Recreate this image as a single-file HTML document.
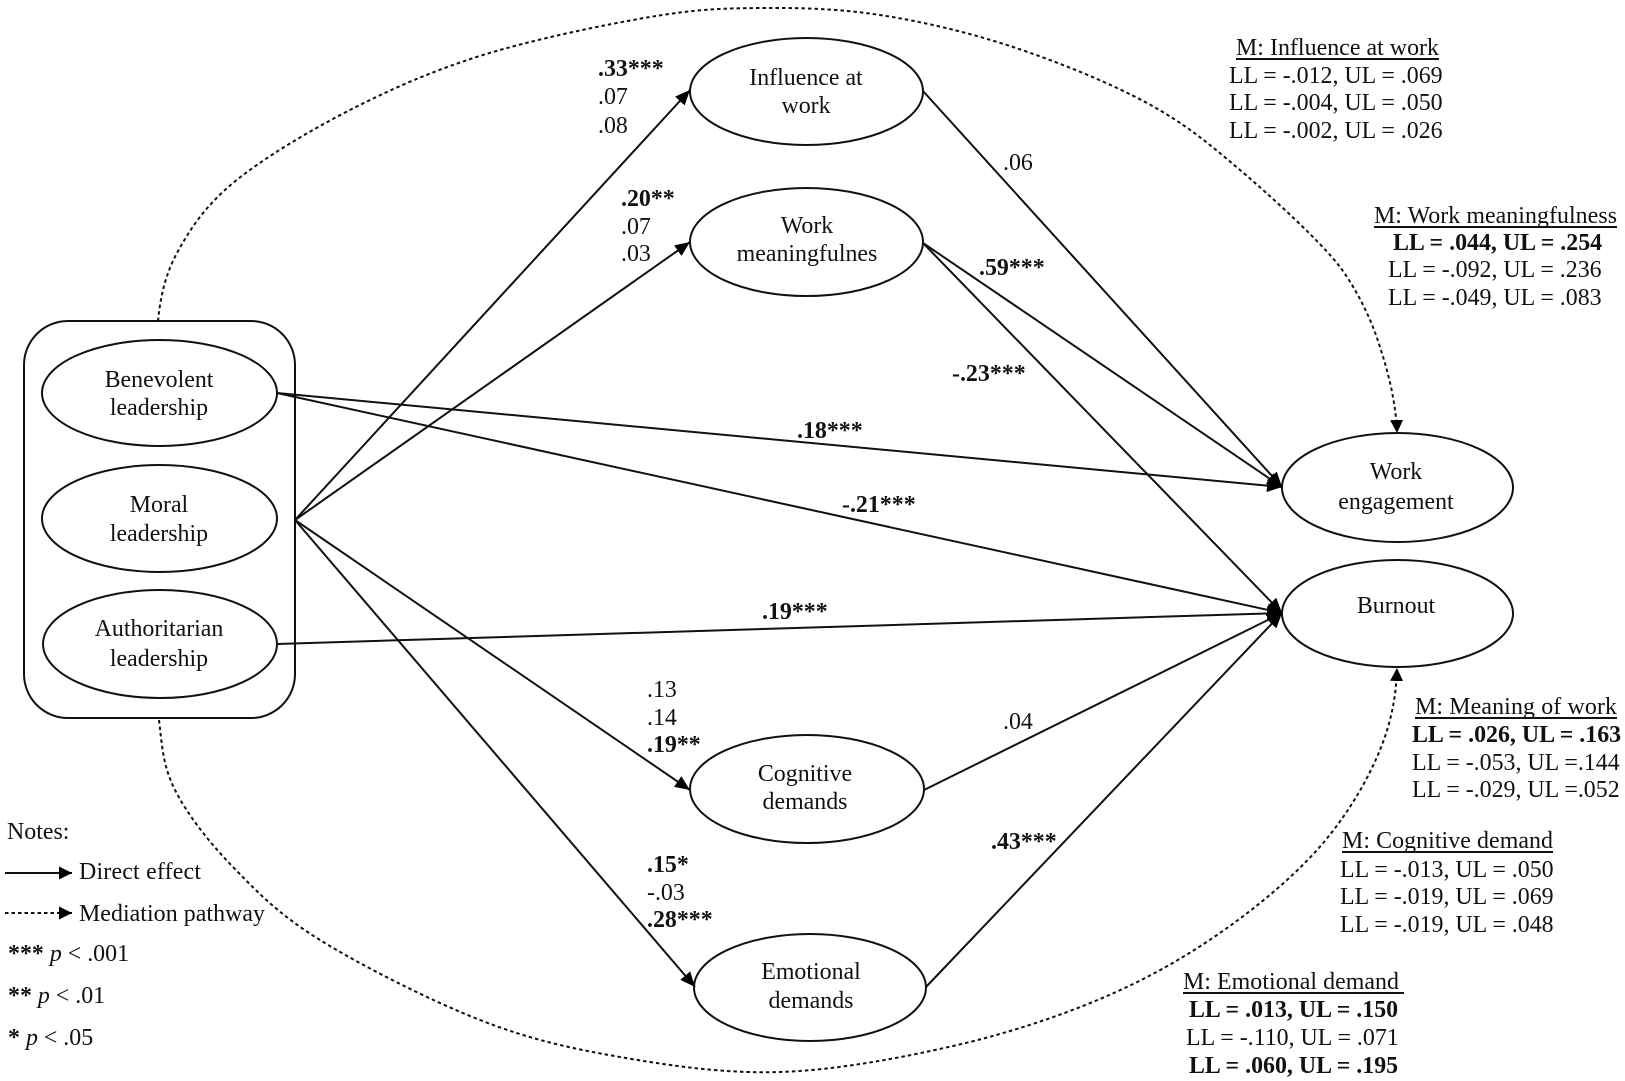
<!DOCTYPE html>
<html><head><meta charset="utf-8"><style>
html,body{margin:0;padding:0;background:#fff}
svg{display:block}
text{font-family:"Liberation Serif",serif;font-size:23.9px;fill:#111}
.b{font-weight:bold}
.c{text-anchor:middle}
.s{stroke:#111;stroke-width:2;fill:none}
.d{stroke:#111;stroke-width:2;fill:none;stroke-dasharray:3.5 3;stroke-linejoin:round}
</style></head><body>
<svg width="1625" height="1081" viewBox="0 0 1625 1081" xmlns="http://www.w3.org/2000/svg">
<defs>
<marker id="a" markerUnits="userSpaceOnUse" markerWidth="16" markerHeight="13" refX="15" refY="6.500" orient="auto"><path d="M0 0L15 6.500L0 13z" fill="#000"/></marker>
<marker id="e" markerUnits="userSpaceOnUse" markerWidth="14" markerHeight="13" refX="13" refY="6.500" orient="auto"><path d="M0 0L13 6.500L0 13z" fill="#000"/></marker>
</defs>
<rect x="24" y="321" width="271" height="397" rx="44" ry="44" class="s"/>
<ellipse cx="159.500" cy="393" rx="117.500" ry="53" class="s"/>
<ellipse cx="159.500" cy="518.500" rx="117.500" ry="53.500" class="s"/>
<ellipse cx="160" cy="644" rx="117" ry="54" class="s"/>
<ellipse cx="806.500" cy="91.500" rx="116.500" ry="53.500" class="s"/>
<ellipse cx="806.500" cy="242" rx="116.500" ry="54" class="s"/>
<ellipse cx="807" cy="789" rx="117" ry="54" class="s"/>
<ellipse cx="810" cy="987.500" rx="116" ry="53.500" class="s"/>
<ellipse cx="1397.500" cy="487.500" rx="115.500" ry="54.500" class="s"/>
<ellipse cx="1397.500" cy="613.500" rx="115.500" ry="53.500" class="s"/>
<g class="s">
<line x1="295" y1="520" x2="690" y2="90" marker-end="url(#a)"/>
<line x1="295" y1="520" x2="690" y2="242" marker-end="url(#a)"/>
<line x1="295" y1="520" x2="690" y2="790" marker-end="url(#a)"/>
<line x1="295" y1="520" x2="695" y2="987" marker-end="url(#a)"/>
<line x1="277" y1="393" x2="1282" y2="487" marker-end="url(#a)"/>
<line x1="277" y1="393" x2="1282" y2="613" marker-end="url(#a)"/>
<line x1="277" y1="644" x2="1282" y2="613" marker-end="url(#a)"/>
<line x1="923" y1="91" x2="1282" y2="487" marker-end="url(#a)"/>
<line x1="923" y1="243" x2="1282" y2="487" marker-end="url(#a)"/>
<line x1="923" y1="243" x2="1282" y2="613" marker-end="url(#a)"/>
<line x1="924" y1="790" x2="1282" y2="613" marker-end="url(#a)"/>
<line x1="926" y1="987" x2="1282" y2="613" marker-end="url(#a)"/>
</g>
<path class="d" marker-end="url(#e)" d="M158 321C160 300 164.500 276 177 253C189.500 230 204.300 206.800 233 183C261.700 159.200 308.300 131.300 350 110C391.700 88.700 433 70.500 483 55C533 39.500 603.800 24.800 650 17C696.200 9.200 721.700 8.300 760 8C798.300 7.700 837.800 8.500 880 15C922.200 21.500 968.500 32.300 1013 47C1057.500 61.700 1109.200 82.500 1147 103C1184.800 123.500 1207.800 142.700 1240 170C1272 197 1322 243 1340 267C1352 283 1367.500 310 1377 338C1386.500 365.700 1396 400 1397 433"/>
<path class="d" marker-end="url(#e)" d="M159 720C162 745 162.700 765.500 175 790C187.300 814.500 208.800 842 233 867C257.200 892 278.800 914.500 320 940C361.200 965.500 430 1000.500 480 1020C530 1039.500 570 1048.300 620 1057C670 1065.700 724.500 1073.800 780 1072C835.500 1070.200 899.700 1058.200 953 1046C1006.300 1033.800 1056 1017.500 1100 999C1144 980.500 1180.800 959.800 1217 935C1253.200 910.200 1290.300 879.700 1317 850C1343.700 820.300 1363.700 787.300 1377 757C1390.300 726.700 1396 700 1397 668"/>
<text class="c" x="159" y="387">Benevolent</text><text class="c" x="159" y="415">leadership</text>
<text class="c" x="159" y="512">Moral</text><text class="c" x="159" y="541">leadership</text>
<text class="c" x="159" y="636">Authoritarian</text><text class="c" x="159" y="666">leadership</text>
<text class="c" x="806" y="85">Influence at</text><text class="c" x="806" y="113">work</text>
<text class="c" x="807" y="233">Work</text><text class="c" x="807" y="261">meaningfulnes</text>
<text class="c" x="805" y="781">Cognitive</text><text class="c" x="805" y="809">demands</text>
<text class="c" x="811" y="979">Emotional</text><text class="c" x="811" y="1008">demands</text>
<text class="c" x="1396" y="479">Work</text><text class="c" x="1396" y="509">engagement</text>
<text class="c" x="1396" y="613">Burnout</text>
<text class="b" x="598" y="76">.33***</text><text x="598" y="104">.07</text><text x="598" y="133">.08</text>
<text class="b" x="621" y="206">.20**</text><text x="621" y="234">.07</text><text x="621" y="261">.03</text>
<text x="647" y="697">.13</text><text x="647" y="725">.14</text><text class="b" x="647" y="752">.19**</text>
<text class="b" x="647" y="872">.15*</text><text x="647" y="900">-.03</text><text class="b" x="647" y="927">.28***</text>
<text x="1003" y="729">.04</text>
<text class="b" x="991" y="849">.43***</text>
<text x="1003" y="170">.06</text>
<text class="b" x="979" y="275">.59***</text>
<text class="b" x="952" y="381">-.23***</text>
<text class="b" x="797" y="438">.18***</text>
<text class="b" x="842" y="512">-.21***</text>
<text class="b" x="762" y="619">.19***</text>
<text x="1236" y="55" textLength="203" lengthAdjust="spacing">M: Influence at work</text><line x1="1236" y1="59" x2="1439" y2="59" class="s"/>
<text x="1229" y="83">LL = -.012, UL = .069</text><text x="1229" y="110">LL = -.004, UL = .050</text><text x="1229" y="138">LL = -.002, UL = .026</text>
<text x="1374" y="223" textLength="243" lengthAdjust="spacing">M: Work meaningfulness</text><line x1="1374" y1="227" x2="1617" y2="227" class="s"/>
<text class="b" x="1393" y="250">LL = .044, UL = .254</text><text x="1388" y="277">LL = -.092, UL = .236</text><text x="1388" y="305">LL = -.049, UL = .083</text>
<text x="1415" y="714" textLength="202" lengthAdjust="spacing">M: Meaning of work</text><line x1="1415" y1="718" x2="1617" y2="718" class="s"/>
<text class="b" x="1412" y="742">LL = .026, UL = .163</text><text x="1412" y="770">LL = -.053, UL =.144</text><text x="1412" y="797">LL = -.029, UL =.052</text>
<text x="1342" y="848" textLength="211" lengthAdjust="spacing">M: Cognitive demand</text><line x1="1342" y1="852" x2="1553" y2="852" class="s"/>
<text x="1340" y="877">LL = -.013, UL = .050</text><text x="1340" y="904">LL = -.019, UL = .069</text><text x="1340" y="932">LL = -.019, UL = .048</text>
<text x="1183" y="989" textLength="216" lengthAdjust="spacing">M: Emotional demand</text><line x1="1183" y1="993" x2="1404" y2="993" class="s"/>
<text class="b" x="1189" y="1017">LL = .013, UL = .150</text><text x="1186" y="1045">LL = -.110, UL = .071</text><text class="b" x="1189" y="1073">LL = .060, UL = .195</text>
<text x="7" y="839">Notes:</text>
<line x1="5" y1="873" x2="72" y2="873" class="s" marker-end="url(#e)"/><text x="79" y="879" textLength="122" lengthAdjust="spacing">Direct effect</text>
<line x1="5" y1="913" x2="72" y2="913" class="d" marker-end="url(#e)"/><text x="79" y="921" textLength="186" lengthAdjust="spacing">Mediation pathway</text>
<text x="8" y="961"><tspan class="b">***</tspan> <tspan font-style="italic">p</tspan> &lt; .001</text>
<text x="8" y="1003"><tspan class="b">**</tspan> <tspan font-style="italic">p</tspan> &lt; .01</text>
<text x="8" y="1045"><tspan class="b">*</tspan> <tspan font-style="italic">p</tspan> &lt; .05</text>
</svg>
</body></html>
